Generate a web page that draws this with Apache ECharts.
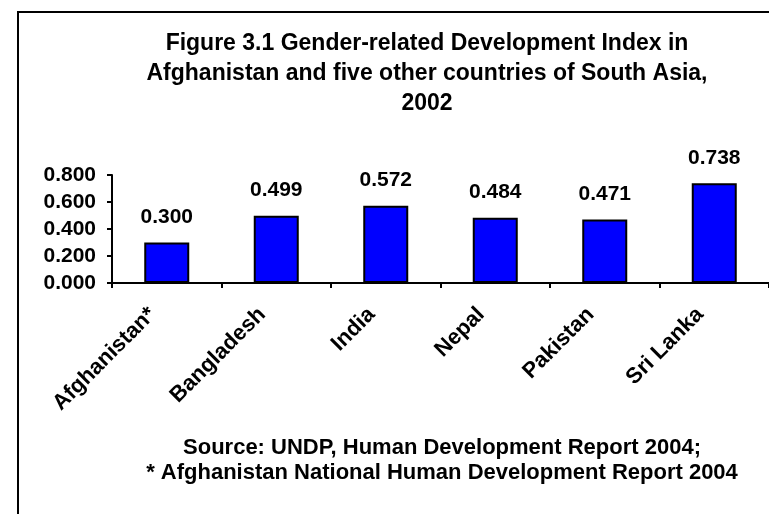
<!DOCTYPE html>
<html>
<head>
<meta charset="utf-8">
<script src="https://cdn.jsdelivr.net/npm/echarts@6/dist/echarts.min.js"></script>
<style>
html,body{margin:0;padding:0;background:#fff;}
#chart{width:769px;height:514px;}
</style>
</head>
<body>
<div id="chart"></div>
<script>
const categories = ['Afghanistan*', 'Bangladesh', 'India', 'Nepal', 'Pakistan', 'Sri Lanka'];
const gdiValues = [0.300, 0.499, 0.572, 0.484, 0.471, 0.738];
const titleLines = ['Figure 3.1 Gender-related Development Index in', 'Afghanistan and five other countries of South Asia,', '2002'];
const sourceLines = ['Source: UNDP, Human Development Report 2004;', '* Afghanistan National Human Development Report 2004'];
const yTicks = { min: 0, max: 0.8, interval: 0.2 };

const FONT = '"Liberation Sans", Arial, sans-serif';
const chart = echarts.init(document.getElementById('chart'), null, { renderer: 'canvas' });
chart.setOption({
  backgroundColor: '#ffffff',
  animation: false,
  title: {
    text: titleLines.join('\n'),
    left: 422,
    top: 24,
    textAlign: 'center',
    textStyle: { fontFamily: FONT, fontWeight: 'bold', fontSize: 23, lineHeight: 30, color: '#000' }
  },
  grid: { left: 112, top: 175, width: 660, height: 108, containLabel: false },
  xAxis: {
    type: 'category',
    data: categories,
    axisLine: { lineStyle: { color: '#000', width: 2 } },
    axisTick: { show: true, length: 5, lineStyle: { color: '#000', width: 2 } },
    axisLabel: {
      rotate: 45, interval: 0, margin: 14,
      fontFamily: FONT, fontWeight: 'bold', fontSize: 22, color: '#000',
      padding: [0, 20, 0, 0]
    }
  },
  yAxis: {
    type: 'value',
    min: yTicks.min, max: yTicks.max, interval: yTicks.interval,
    splitLine: { show: false },
    axisLine: { show: true, lineStyle: { color: '#000', width: 2 } },
    axisTick: { show: true, length: 5, lineStyle: { color: '#000', width: 2 } },
    axisLabel: {
      margin: 16,
      fontFamily: FONT, fontWeight: 'bold', fontSize: 21, color: '#000',
      formatter: v => v.toFixed(3)
    }
  },
  series: [{
    type: 'bar',
    data: gdiValues,
    barWidth: 45,
    itemStyle: { color: '#0000FF', borderColor: '#000', borderWidth: 2 },
    label: {
      show: true, position: 'top', distance: 15,
      fontFamily: FONT, fontWeight: 'bold', fontSize: 21, color: '#000',
      formatter: p => p.value.toFixed(3)
    }
  }],
  graphic: [
    { type: 'rect', shape: { x: 18, y: 12, width: 800, height: 600 }, style: { fill: 'none', stroke: '#000', lineWidth: 2 }, silent: true },
    { type: 'text', style: {
        text: sourceLines.join('\n'), x: 442, y: 435, textAlign: 'center', textVerticalAlign: 'top',
        font: 'bold 22px ' + FONT, lineHeight: 25, fill: '#000' } }
  ]
});
</script>
</body>
</html>
